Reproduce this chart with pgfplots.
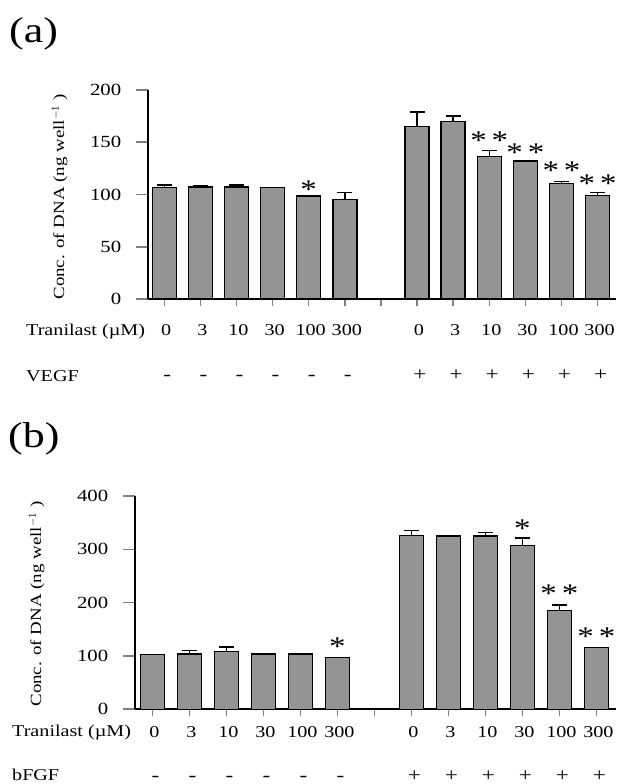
\documentclass[border=0pt]{standalone}
\usepackage{fontspec}
\setmainfont{Liberation Serif}[FakeStretch=1.22]
\usepackage{pgfplots}
\usepackage{pgfplotstable}
\pgfplotsset{compat=1.18}

\definecolor{barfill}{gray}{0.58}

% panel (a): VEGF
\pgfplotstableread{
x y e
0 106.5 2.5
1 107 1
2 107 2
3 106.5 0
4 98.5 0
5 95 7
7 165 14
8 170 5
9 136.5 5.5
10 132 0
11 110.5 2
12 99 3
}\dataA

% panel (b): bFGF
\pgfplotstableread{
x y e
0 103 0
1 104 6
2 108 9
3 104 0
4 104 0
5 97.5 0
7 326 9
8 325 0
9 325 7
10 307 14
11 185 11
12 116 0
}\dataB

\pgfplotsset{
  dnabars/.style={
    scale only axis,
    axis x line*=bottom, axis y line*=left,
    axis line style={line width=1.6pt,-},
    tick align=outside,
    xtick={0,...,12}, xticklabels={},
    ytick style={line width=1.6pt,/pgfplots/major tick length=12pt},
    xtick style={line width=1.4pt,/pgfplots/major tick length=7pt},
    ymin=0, clip=false,
    yticklabel style={font=\fontsize{17}{17}\selectfont,xshift=-19pt},
    /pgf/number format/assume math mode=true,
    ybar, bar width=24pt,
  },
  bars/.style={fill=barfill, draw=black, line width=1.5pt,
    error bars/y dir=plus, error bars/y explicit,
    error bars/error bar style={line width=1.5pt,black},
    error bars/error mark options={rotate=90,mark size=7.5pt,line width=1.5pt,black}},
}
\tikzset{
  lab/.style={font=\fontsize{16.5}{16.5}\selectfont,anchor=base,inner sep=0pt},
  sign/.style={font=\fontsize{19}{19}\selectfont,anchor=base,inner sep=0pt},
  star/.style={font=\fontsize{27}{27}\selectfont,anchor=base,inner sep=0pt,yshift=-12.5pt},
  big/.style={font=\fontsize{36}{36}\selectfont,anchor=base west,inner sep=0pt},
  ylab/.style={font=\fontsize{15.5}{15.5}\selectfont,rotate=90,anchor=base,inner sep=0pt},
}

\begin{document}
\begin{tikzpicture}
\useasboundingbox (0,0) rectangle (616pt,784pt);

% ---------------- (a)
\node[big] at (9pt,741pt) {(a)};
\begin{axis}[dnabars, at={(148pt,485pt)}, anchor=south west,
  width=468pt, height=209pt, xmin=-0.45, xmax=12.51,
  ymax=200, ytick={0,50,...,200}]
\addplot[bars] table[x=x,y=y,y error=e] {\dataA};
\node[star] at (axis cs:4,108) {*};
\node[star] at (axis cs:9,155) {*\hspace{5pt}*};
\node[star] at (axis cs:10,144) {*\hspace{5pt}*};
\node[star] at (axis cs:11,126) {*\hspace{5pt}*};
\node[star] at (axis cs:12,114) {*\hspace{5pt}*};
\foreach \p/\t in {0/0,1/3,2/10,3/30,4/100,5/300,7/0,8/3,9/10,10/30,11/100,12/300}{
  \edef\tmp{\noexpand\node[lab,xshift=2pt,yshift=-37pt] at (axis cs:\p,0) {\t};}\tmp}
\foreach \p in {0,...,5}{
  \edef\tmp{\noexpand\node[sign,xshift=3pt,yshift=-82pt] at (axis cs:\p,0) {-};}\tmp}
\foreach \p in {7,...,12}{
  \edef\tmp{\noexpand\node[sign,xshift=3pt,yshift=-82pt] at (axis cs:\p,0) {+};}\tmp}
\end{axis}
\node[lab,anchor=base west] at (26pt,448pt) {Tranilast (µM)};
\node[lab,anchor=base west] at (26pt,402pt) {VEGF};
\node[ylab] at (64pt,587pt) {Conc. of DNA (ng well$^{-1}$ )};

% ---------------- (b)
\node[big] at (8pt,336pt) {(b)};
\begin{axis}[dnabars, at={(135pt,74.7pt)}, anchor=south west,
  width=481pt, height=213.3pt, xmin=-0.47, xmax=12.53,
  ymax=400, ytick={0,100,...,400}]
\addplot[bars] table[x=x,y=y,y error=e] {\dataB};
\node[star] at (axis cs:5,125) {*};
\node[star] at (axis cs:10,345) {*};
\node[star] at (axis cs:11,223) {*\hspace{5pt}*};
\node[star] at (axis cs:12,143) {*\hspace{5pt}*};
\foreach \p/\t in {0/0,1/3,2/10,3/30,4/100,5/300,7/0,8/3,9/10,10/30,11/100,12/300}{
  \edef\tmp{\noexpand\node[lab,xshift=2pt,yshift=-28pt] at (axis cs:\p,0) {\t};}\tmp}
\foreach \p in {0,...,5}{
  \edef\tmp{\noexpand\node[sign,xshift=3pt,yshift=-72pt] at (axis cs:\p,0) {-};}\tmp}
\foreach \p in {7,...,12}{
  \edef\tmp{\noexpand\node[sign,xshift=3pt,yshift=-72pt] at (axis cs:\p,0) {+};}\tmp}
\end{axis}
\node[lab,anchor=base west] at (12pt,47pt) {Tranilast (µM)};
\node[lab,anchor=base west] at (12pt,3pt) {bFGF};
\node[ylab] at (41pt,180pt) {Conc. of DNA (ng well$^{-1}$ )};
\end{tikzpicture}
\end{document}
